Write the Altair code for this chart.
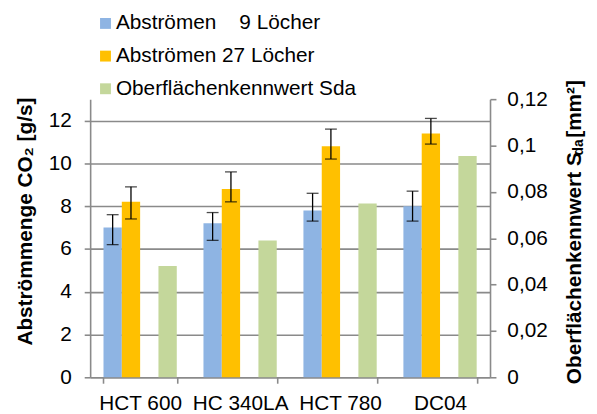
import altair as alt
import pandas as pd

cats = ["HCT 600", "HC 340LA", "HCT 780", "DC04"]
S1 = "Abströmen\u00a0\u00a0\u00a0\u00a09 Löcher"
S2 = "Abströmen 27 Löcher"
S3 = "Oberflächenkennwert Sda"
series_order = [S1, S2, S3]
colors = ["#8EB4E3", "#FFC000", "#C4D79B"]

blue_vals = [7.0, 7.2, 7.8, 8.0]
blue_lo = [6.2, 6.4, 7.3, 7.3]
blue_hi = [7.6, 7.7, 8.6, 8.7]
orange_vals = [8.2, 8.8, 10.8, 11.4]
orange_lo = [7.4, 8.2, 10.2, 10.9]
orange_hi = [8.9, 9.6, 11.6, 12.1]
sda_vals = [0.048, 0.059, 0.075, 0.0955]

left_ticks = [0, 2, 4, 6, 8, 10, 12]
right_ticks = [0, 0.02, 0.04, 0.06, 0.08, 0.1, 0.12]

prim = pd.DataFrame({
    "cat": cats + cats,
    "series": [S1] * 4 + [S2] * 4,
    "value": blue_vals + orange_vals,
    "lo": blue_lo + orange_lo,
    "hi": blue_hi + orange_hi,
})
sec = pd.DataFrame({"cat": cats, "series": [S3] * 4, "sda": sda_vals})

GRAY = "#8a8a8a"
FONT = "Liberation Sans"

x_enc = alt.X(
    "cat:N", sort=cats,
    scale=alt.Scale(domain=cats, paddingInner=0.267, paddingOuter=0.1335),
    axis=alt.Axis(title=None, labelAngle=0, tickBand="extent", tickSize=6,
                  labelPadding=10, grid=False),
)
xoff = alt.XOffset("series:N", scale=alt.Scale(domain=[S1, S2, "gap", S3],
                                               paddingInner=0, paddingOuter=0))
color = alt.Color(
    "series:N",
    scale=alt.Scale(domain=series_order, range=colors),
    legend=alt.Legend(title=None, orient="none", legendX=5, legendY=-87,
                      symbolType="square", symbolSize=121, symbolStrokeWidth=0,
                      labelFontSize=21, labelFont=FONT, labelColor="black",
                      rowPadding=11, labelOffset=0, padding=0, labelLimit=500),
)
yscale = alt.Scale(domain=[0, 13], nice=False)
yaxis = alt.Axis(title=None, values=left_ticks, grid=True, tickSize=6, labelPadding=13)

bars1 = alt.Chart(prim).mark_bar().encode(
    x=x_enc, xOffset=xoff,
    y=alt.Y("value:Q", scale=yscale, axis=yaxis),
    color=color,
)
rules = alt.Chart(prim).mark_rule(color="black", strokeWidth=1.3).encode(
    x=x_enc, xOffset=xoff,
    y=alt.Y("lo:Q", scale=yscale, axis=yaxis), y2="hi:Q",
)
caps_lo = alt.Chart(prim).mark_tick(color="black", size=12, thickness=1.3).encode(
    x=x_enc, xOffset=xoff, y=alt.Y("lo:Q", scale=yscale, axis=yaxis),
)
caps_hi = alt.Chart(prim).mark_tick(color="black", size=12, thickness=1.3).encode(
    x=x_enc, xOffset=xoff, y=alt.Y("hi:Q", scale=yscale, axis=yaxis),
)
primary = alt.layer(bars1, rules, caps_lo, caps_hi)

bars2 = alt.Chart(sec).mark_bar().encode(
    x=x_enc, xOffset=xoff,
    y=alt.Y("sda:Q", scale=alt.Scale(domain=[0, 0.12], nice=False),
            axis=alt.Axis(orient="right", title=None, values=right_ticks, grid=False,
                          tickSize=6, labelPadding=11,
                          labelExpr="replace(format(datum.value, '~r'), '.', ',')")),
    color=color,
)


def title_piece(txt, x, y, size=21):
    return alt.Chart(pd.DataFrame({"t": [txt]})).mark_text(
        angle=270, align="left", baseline="alphabetic", font=FONT,
        fontWeight="bold", fontSize=size, color="black",
    ).encode(x=alt.value(x), y=alt.value(y), text="t:N")


left_title = title_piece("Abströmmenge CO\u2082 [g/s]", -58.5, 249)
r1 = title_piece("Oberflächenkennwert  S", 495.5, 288)
r2 = title_piece("da", 497.5, 57, 14)
r3 = title_piece("[mm²]", 495.5, 39)

chart = alt.layer(primary, bars2, left_title, r1, r2, r3).resolve_scale(
    y="independent"
).properties(
    width=404, height=281,
    autosize=alt.AutoSizeParams(type="none"),
    padding={"left": 83, "top": 90, "right": 100, "bottom": 35},
).configure_axis(
    labelFont=FONT, labelFontSize=21, labelColor="black",
    domainColor=GRAY, tickColor=GRAY, domainWidth=1.6, tickWidth=1.6,
    gridColor=GRAY, gridWidth=1.6, gridOpacity=1,
).configure_view(strokeWidth=0)

chart.save("out.html", embed_options={"renderer": "svg", "actions": False})
